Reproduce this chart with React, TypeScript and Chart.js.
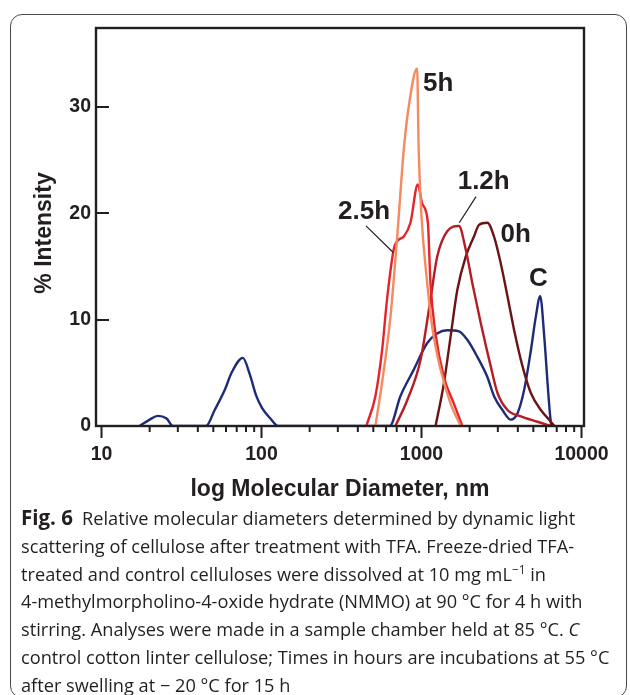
import React, { useEffect, useRef } from "react";
import { Chart, registerables } from "chart.js";

Chart.register(...registerables);

// Axis tick labels
const xTickValues = [10, 100, 1000, 10000];
const yTickValues = [0, 10, 20, 30];

// Size distributions: molecular diameter (nm) vs % intensity
const controlDiam = [17.3, 20, 22.5, 25.5, 28, 45, 51, 59, 65, 76.5, 84.7, 92.4, 100.7, 113, 127, 633, 738, 895, 1086, 1253, 1448, 1714, 1933, 2233, 2580, 2840, 3206, 3616, 3981, 4383, 4825, 5185, 5520, 5850, 6138, 6345, 6470];
const controlInt = [0, 0.6, 0.95, 0.7, 0, 0, 1.5, 3.4, 5.0, 6.4, 4.8, 2.9, 1.7, 0.75, 0, 0, 2.8, 5.3, 7.8, 8.7, 9.0, 8.9, 8.1, 6.5, 4.6, 2.8, 1.5, 0.6, 1.2, 3.4, 7.1, 10.3, 12.2, 8.4, 4.0, 1.2, 0];

const h0Diam = [1224, 1380, 1520, 1675, 1888, 2128, 2288, 2580, 2840, 3127, 3446, 3794, 4280, 4825, 5570, 6440, 6760];
const h0Int = [0, 4.0, 8.4, 12.8, 15.9, 17.8, 18.9, 19.1, 17.8, 15.3, 12.2, 9.0, 5.6, 3.1, 1.5, 0.4, 0];

const h12Diam = [687, 813, 986, 1138, 1253, 1448, 1714, 1888, 2080, 2344, 2709, 2985, 3447, 4178, 5310, 6440];
const h12Int = [0, 2.4, 6.2, 11.9, 15.9, 18.3, 18.8, 16.6, 13.4, 9.7, 5.6, 3.1, 1.5, 0.9, 0.4, 0];

const h25Diam = [452, 515, 567, 609, 671, 720, 775, 853, 948, 1010, 1096, 1138, 1223, 1380, 1594, 1800];
const h25Int = [0, 2.8, 7.1, 11.9, 16.6, 17.5, 17.8, 19.1, 22.7, 20.9, 19.1, 13.4, 8.7, 4.6, 2.1, 0];

const h5Diam = [515, 566, 640, 705, 775, 832, 939, 960, 1000, 1086, 1167, 1316, 1520, 1758];
const h5Int = [0, 4.0, 10.3, 17.8, 26, 30.0, 33.6, 26, 19.7, 13.4, 9.3, 5.3, 2.1, 0];

// Curve names placed beside their peaks (diameter, intensity)
const noteText = ["5h", "2.5h", "1.2h", "0h", "C"];
const noteDiam = [1021, 636, 2447, 3882, 5370];
const noteInt = [32.2, 20.1, 22.9, 17.95, 13.8];
const noteAlign: CanvasTextAlign[] = ["left", "right", "center", "center", "center"];

// Leader lines: [fromDiam, fromInt, toDiam, toInt]
const leaderLines = [
  [450, 18.8, 666, 16.3],
  [2192, 21.55, 1722, 19.1],
];

const INK = "#231f20";
const FONT = "'Liberation Sans', Arial, Helvetica, sans-serif";

const toPoints = (xs: number[], ys: number[]) => xs.map((x, i) => ({ x, y: ys[i] }));

const framePlugin = {
  id: "frameTicks",
  afterDatasetsDraw(chart: any) {
    const { ctx, chartArea: a, scales } = chart;
    const xs = scales.x;
    const ys = scales.y;
    ctx.save();
    ctx.strokeStyle = INK;
    ctx.lineWidth = 2.4;
    ctx.strokeRect(a.left, a.top, a.right - a.left, a.bottom - a.top);
    ctx.lineWidth = 2;
    ctx.beginPath();
    for (const v of yTickValues) {
      if (v === 0) continue;
      const y = Math.round(ys.getPixelForValue(v));
      ctx.moveTo(a.left, y);
      ctx.lineTo(a.left + 13, y);
    }
    for (let d = 10; d <= 10000; d *= 10) {
      for (let m = 1; m <= 9; m++) {
        const v = d * m;
        if (v > 10000) break;
        const x = xs.getPixelForValue(v);
        ctx.moveTo(x, a.bottom);
        ctx.lineTo(x, a.bottom + (m === 1 ? 12 : 6));
      }
    }
    ctx.stroke();

    // vertical axis title
    ctx.save();
    ctx.translate(45, (a.top + a.bottom) / 2 + 6);
    ctx.rotate(-Math.PI / 2);
    ctx.fillStyle = INK;
    ctx.font = `bold 23px ${FONT}`;
    ctx.textAlign = "center";
    ctx.textBaseline = "middle";
    ctx.fillText("% Intensity", 0, 0);
    ctx.restore();
    ctx.restore();
  },
};

const notesPlugin = {
  id: "curveNotes",
  afterDatasetsDraw(chart: any) {
    const { ctx, scales } = chart;
    const xs = scales.x;
    const ys = scales.y;
    ctx.save();
    ctx.fillStyle = INK;
    ctx.font = `bold 26px ${FONT}`;
    ctx.textBaseline = "middle";
    noteText.forEach((t, i) => {
      ctx.textAlign = noteAlign[i];
      ctx.fillText(t, xs.getPixelForValue(noteDiam[i]), ys.getPixelForValue(noteInt[i]));
    });
    ctx.strokeStyle = INK;
    ctx.lineWidth = 1.2;
    ctx.beginPath();
    for (const [x1, y1, x2, y2] of leaderLines) {
      ctx.moveTo(xs.getPixelForValue(x1), ys.getPixelForValue(y1));
      ctx.lineTo(xs.getPixelForValue(x2), ys.getPixelForValue(y2));
    }
    ctx.stroke();
    ctx.restore();
  },
};

export default function App() {
  const canvasRef = useRef<HTMLCanvasElement>(null);

  useEffect(() => {
    const line = (label: string, xs: number[], ys: number[], color: string) => ({
      label,
      data: toPoints(xs, ys),
      borderColor: color,
      backgroundColor: color,
      borderWidth: 2.4,
      pointRadius: 0,
      cubicInterpolationMode: "monotone" as const,
      fill: false,
    });

    const chart = new Chart(canvasRef.current!, {
      type: "line",
      data: {
        datasets: [
          line("5h", h5Diam, h5Int, "#f5895f"),
          line("2.5h", h25Diam, h25Int, "#e5232a"),
          line("1.2h", h12Diam, h12Int, "#b51d24"),
          line("0h", h0Diam, h0Int, "#6c1316"),
          line("C", controlDiam, controlInt, "#1e2c78"),
        ],
      },
      options: {
        animation: false,
        responsive: false,
        maintainAspectRatio: false,
        parsing: false as any,
        layout: { padding: { top: 28, right: 46, left: 0, bottom: 0 } },
        plugins: { legend: { display: false }, tooltip: { enabled: false } },
        scales: {
          x: {
            type: "logarithmic",
            min: 9.24,
            max: 10366,
            afterBuildTicks: (s: any) => {
              s.ticks = xTickValues.map((v) => ({ value: v, major: true }));
            },
            afterFit: (s: any) => {
              s.height = 84;
            },
            grid: { display: false, drawTicks: false },
            border: { display: false },
            ticks: {
              autoSkip: false,
              maxRotation: 0,
              padding: 17,
              color: INK,
              font: { family: FONT, size: 19.5, weight: "bold" },
              callback: (v: any) => String(v),
            },
            title: {
              display: true,
              text: "log Molecular Diameter, nm",
              color: INK,
              font: { family: FONT, size: 23, weight: "bold" },
              padding: { top: 0, bottom: 7 },
            },
          },
          y: {
            type: "linear",
            min: 0,
            max: 37.4,
            afterBuildTicks: (s: any) => {
              s.ticks = yTickValues.map((v) => ({ value: v }));
            },
            afterFit: (s: any) => {
              s.width = 96;
            },
            grid: { display: false, drawTicks: false },
            border: { display: false },
            ticks: {
              padding: 5,
              color: INK,
              font: { family: FONT, size: 19.5, weight: "bold" },
            },
          },
        },
      },
      plugins: [framePlugin, notesPlugin],
    } as any);

    return () => chart.destroy();
  }, []);

  const caption: React.CSSProperties = {
    position: "absolute",
    left: 21,
    top: 504,
    fontFamily: "'Open Sans', sans-serif",
    fontSize: 18.2,
    lineHeight: "27.8px",
    color: INK,
    whiteSpace: "nowrap",
  };

  return (
    <div style={{ position: "fixed", left: 0, top: 0, width: 630, height: 695, background: "#fff", overflow: "hidden" }}>
      <div
        style={{
          position: "absolute",
          left: 10,
          top: 14,
          width: 617,
          height: 684,
          border: "1.5px solid #4a4a4a",
          borderRadius: 12,
          boxSizing: "border-box",
        }}
      />
      <canvas
        ref={canvasRef}
        width={630}
        height={510}
        style={{ position: "absolute", left: 0, top: 0, width: 630, height: 510 }}
      />
      <div style={caption}>
        <div>
          <b style={{ fontSize: 20.5 }}>Fig. 6</b>&ensp;Relative molecular diameters determined by dynamic light
        </div>
        <div>scattering of cellulose after treatment with TFA. Freeze-dried TFA-</div>
        <div>
          treated and control celluloses were dissolved at 10 mg mL
          <sup style={{ fontSize: "0.65em", lineHeight: 0 }}>−1</sup> in
        </div>
        <div>4-methylmorpholino-4-oxide hydrate (NMMO) at 90 °C for 4 h with</div>
        <div>
          stirring. Analyses were made in a sample chamber held at 85 °C. <i>C</i>
        </div>
        <div>control cotton linter cellulose; Times in hours are incubations at 55 °C</div>
        <div>after swelling at − 20 °C for 15 h</div>
      </div>
    </div>
  );
}
